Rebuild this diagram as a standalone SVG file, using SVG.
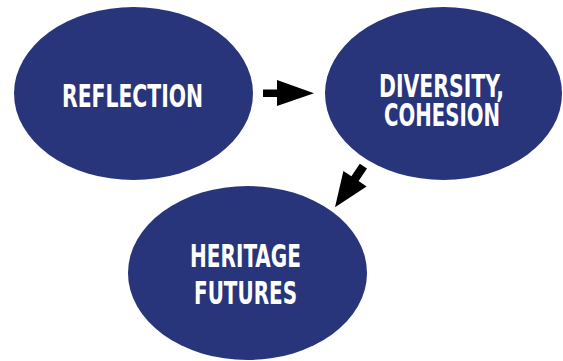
<svg xmlns="http://www.w3.org/2000/svg" width="563" height="361" viewBox="0 0 563 361">
<style>
.node ellipse{fill:#28357b}
.node text{fill:#ffffff;font-family:"DejaVu Sans Condensed","DejaVu Sans","Liberation Sans",sans-serif;font-weight:bold;font-size:32px;text-anchor:middle}
.arrow{fill:#000000}
</style>
<rect width="563" height="361" fill="#ffffff"/>
<g id="reflection" class="node">
<ellipse cx="133.5" cy="93.5" rx="119.5" ry="86.5"/>
<text x="132.5" y="107" textLength="141" lengthAdjust="spacingAndGlyphs">REFLECTION</text>
</g>
<g id="diversity" class="node">
<ellipse cx="443.5" cy="93.5" rx="118.5" ry="86.5"/>
<text x="441.5" y="96.5" textLength="125" lengthAdjust="spacingAndGlyphs">DIVERSITY,</text>
<text x="442" y="125.5" textLength="116" lengthAdjust="spacingAndGlyphs">COHESION</text>
</g>
<g id="heritage" class="node">
<ellipse cx="247.5" cy="273" rx="119.5" ry="87"/>
<text x="245.5" y="267" textLength="111" lengthAdjust="spacingAndGlyphs">HERITAGE</text>
<text x="245.5" y="303.5" textLength="103" lengthAdjust="spacingAndGlyphs">FUTURES</text>
</g>
<g id="connectors">
<polygon class="arrow" points="263,89.5 277,89.5 277,80 314,93.3 277,106 277,97 263,97"/>
<polygon class="arrow" points="359.8,163.8 367,168.6 358.6,181.1 366.6,186.5 335,207.3 343.4,170.9 351.4,176.3"/>
</g>
</svg>
